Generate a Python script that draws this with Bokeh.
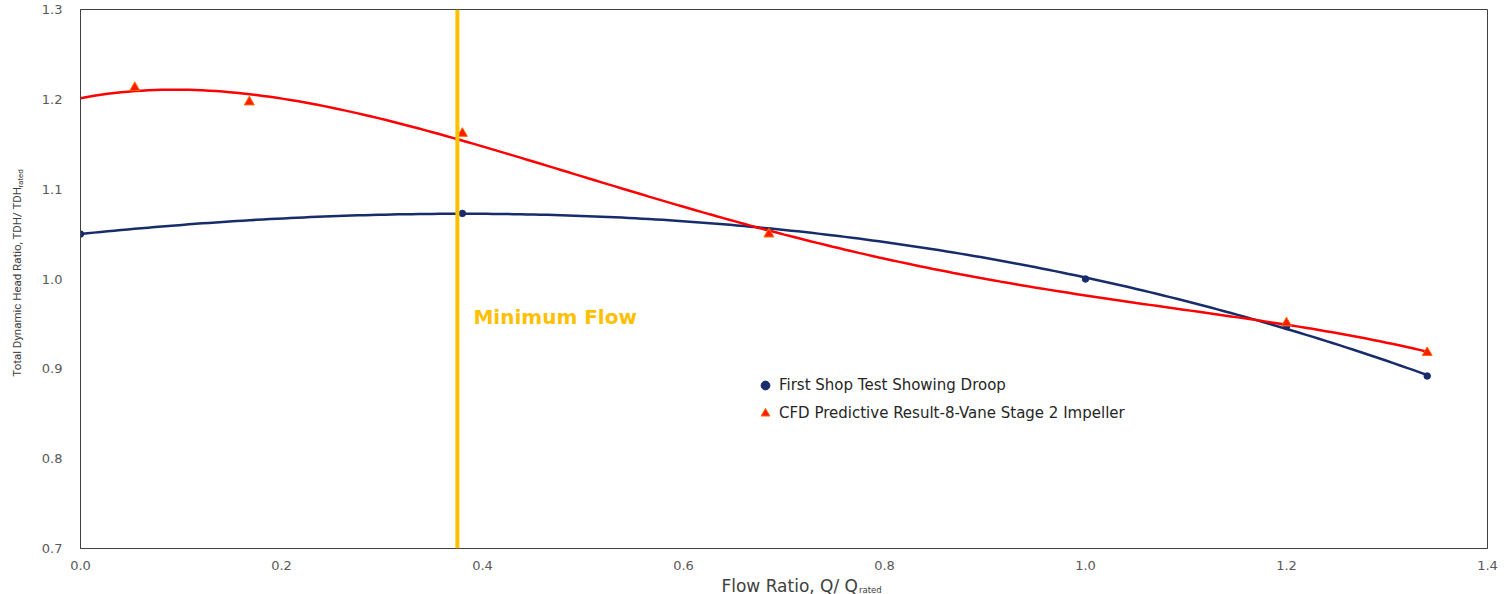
import numpy as np
from bokeh.plotting import figure
from bokeh.layouts import row, column
from bokeh.core.properties import value
from bokeh.models import (Span, Label, Legend, LegendItem, FixedTicker,
                          NumeralTickFormatter, Range1d)
from bokeh.embed import file_html
from bokeh.resources import INLINE

# ---- data ----
shop_x = [0.0, 0.38, 1.0, 1.2, 1.34]
shop_y = [1.050, 1.073, 1.000, 0.947, 0.892]

cfd_x = [0.054, 0.168, 0.38, 0.685, 1.2, 1.34]
cfd_y = [1.213, 1.197, 1.162, 1.050, 0.951, 0.918]

min_flow_x = 0.375
x_ticks = [0.0, 0.2, 0.4, 0.6, 0.8, 1.0, 1.2, 1.4]
y_ticks = [0.7, 0.8, 0.9, 1.0, 1.1, 1.2, 1.3]

shop_label = "First Shop Test Showing Droop"
cfd_label = "CFD Predictive Result-8-Vane Stage 2 Impeller"
x_title, x_sub = "Flow Ratio, Q/ Q", "rated"
y_title, y_sub = "Total Dynamic Head Ratio, TDH/ TDH", "rated"

NAVY = "#172C6B"
RED = "#FF0000"
GOLD = "#FFC000"
GREY = "#595959"
TITLE_C = "#404040"

LEFT_W = 36
MAIN_W, MAIN_H = 1464, 574
BOT_H = 20
TOTAL_H = MAIN_H + BOT_H

p = figure(width=MAIN_W, height=MAIN_H, output_backend="svg",
           toolbar_location=None,
           x_range=Range1d(0, 1.4), y_range=Range1d(0.7, 1.3),
           min_border_left=44, min_border_right=13, min_border_top=9,
           min_border_bottom=26)
p.grid.visible = False
p.outline_line_color = "#404040"
p.background_fill_color = "white"

for ax in (p.xaxis[0], p.yaxis[0]):
    ax.axis_line_color = "#404040"
    ax.major_tick_line_color = None
    ax.minor_tick_line_color = None
    ax.major_label_text_color = GREY
    ax.major_label_text_font = "DejaVu Sans"
    ax.major_label_text_font_size = "13px"
    ax.formatter = NumeralTickFormatter(format="0.0")
p.xaxis[0].ticker = FixedTicker(ticks=x_ticks)
p.yaxis[0].ticker = FixedTicker(ticks=y_ticks)
p.xaxis[0].major_label_standoff = 6
p.yaxis[0].major_label_standoff = 12

# polynomial trendlines fitted to each series (as in the original spreadsheet)
xs = np.linspace(0, max(shop_x), 200)
shop_fit = np.polyval(np.polyfit(shop_x, shop_y, 3), xs)
xs2 = np.linspace(0, max(cfd_x), 200)
cfd_fit = np.polyval(np.polyfit(cfd_x, cfd_y, 4), xs2)

p.add_layout(Span(location=min_flow_x, dimension="height", line_color=GOLD,
                  line_width=4))

p.line(xs, shop_fit, line_color=NAVY, line_width=2.5)
p.line(xs2, cfd_fit, line_color=RED, line_width=2.5)

r_shop = p.scatter(shop_x, shop_y, marker="circle", size=6.5,
                   fill_color=NAVY, line_color=NAVY)
r_cfd = p.scatter(cfd_x, cfd_y, marker="triangle", size=10,
                  fill_color="#FF1A00", line_color="#FF6A00", line_width=1)

legend = Legend(items=[LegendItem(label=shop_label, renderers=[r_shop]),
                       LegendItem(label=cfd_label, renderers=[r_cfd])],
                location=(674, 124), orientation="vertical",
                border_line_alpha=0, background_fill_alpha=0,
                padding=0, margin=0, spacing=6, glyph_width=22,
                glyph_height=22, label_height=22, label_standoff=3,
                label_text_font="DejaVu Sans", label_text_font_size="15px",
                label_text_color="#262626")
p.add_layout(legend)

p.add_layout(Label(x=min_flow_x + 0.016, y=0.958, text="Minimum Flow",
                   text_color=GOLD, text_font="DejaVu Sans",
                   text_font_style="bold", text_font_size="20px",
                   text_baseline="middle"))

# ---- axis titles with subscripts, in side strips ----
def strip(w, h, x0):
    f = figure(width=w, height=h, output_backend="svg", toolbar_location=None,
               x_range=Range1d(x0, x0 + w), y_range=Range1d(0, h),
               x_axis_location=None, y_axis_location=None,
               min_border=0)
    f.grid.visible = False
    f.outline_line_color = None
    return f

bottom = strip(MAIN_W, BOT_H, LEFT_W)
bottom.text(x=[845], y=[TOTAL_H - 585], text=[x_title], text_align="right",
            text_baseline="alphabetic", text_font=value("DejaVu Sans"),
            text_font_size=value("17px"), text_color=TITLE_C)
bottom.text(x=[846], y=[TOTAL_H - 589], text=[x_sub], text_align="left",
            text_baseline="alphabetic", text_font=value("DejaVu Sans"),
            text_font_size=value("8.5px"), text_color=TITLE_C)

left = strip(LEFT_W, TOTAL_H, 0)
left.text(x=[16], y=[TOTAL_H - 186], text=[y_title], angle=np.pi / 2,
          text_align="right", text_baseline="middle",
          text_font=value("Roboto"), text_font_size=value("11.5px"),
          text_color=TITLE_C)
left.text(x=[20], y=[TOTAL_H - 187], text=[y_sub], angle=np.pi / 2,
          text_align="left", text_baseline="middle",
          text_font=value("Roboto"), text_font_size=value("8px"),
          text_color=TITLE_C)

layout = row(left, column(p, bottom))
open("out.html", "w").write(file_html(layout, INLINE))
